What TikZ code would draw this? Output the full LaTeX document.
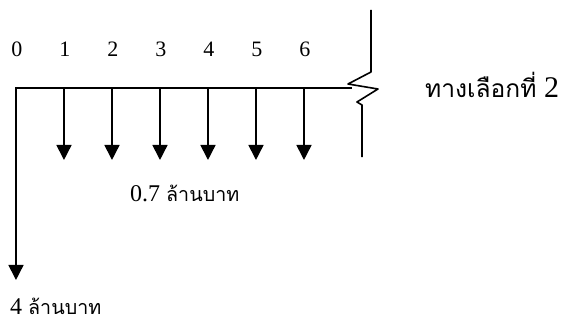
\documentclass[tikz,border=0pt]{standalone}
\usepackage{fontspec}
\setmainfont{Liberation Serif}
\newfontfamily\thaifont[Script=Thai,Scale=0.82]{Loma}
\usetikzlibrary{arrows.meta}
\tikzset{
  flow/.style={line width=1.6pt, -{Triangle[width=15pt,length=15pt]}},
  brk/.style={line width=1.6pt, line join=round},
}
\begin{document}
\begin{tikzpicture}[x=48pt,y=48pt]
    \useasboundingbox (-0.333,-4.875) rectangle (11.417,1.833);
    % แกนเวลาและเงินลงทุน
    \coordinate (start) at (0,0);
    \coordinate (stop) at (7.0,0);
    \coordinate (q0) at (0,-4);
    \draw[flow] (stop) -- (start) -- (q0);
    \foreach \i in {0,...,6} {
        \node[anchor=base, inner sep=0pt, font=\fontsize{22}{26}\selectfont] (t\i) at (\i+0.02, 0.646) {\i};
    }
    % ค่าใช้จ่ายรายปี
    \foreach \i in {1,...,6} {
        \coordinate (p\i) at (\i, 0);
        \coordinate (q\i) at (\i, -1.5);
        \draw[flow] (p\i) -- (q\i);
    }
    % รอยตัด
    \draw[brk] (7.396,1.625) -- (7.396,0.333) -- (6.917,0.083) -- (7.542,-0.021)
        -- (7.104,-0.292) -- (7.208,-0.354) -- (7.208,-1.44);
    % ข้อความ
    \node[anchor=base west, inner sep=0pt, font=\fontsize{30}{34}\selectfont] (alt) at (8.52,-0.208) {{\thaifont ทางเลือกที่} 2};
    \node[anchor=base west, inner sep=0pt, font=\fontsize{24}{28}\selectfont] (amt) at (2.375,-2.375) {0.7 {\thaifont ล้านบาท}};
    \node[anchor=base west, inner sep=0pt, font=\fontsize{24}{28}\selectfont] (inv) at (-0.125,-4.72) {4 {\thaifont ล้านบาท}};
\end{tikzpicture}
\end{document}
